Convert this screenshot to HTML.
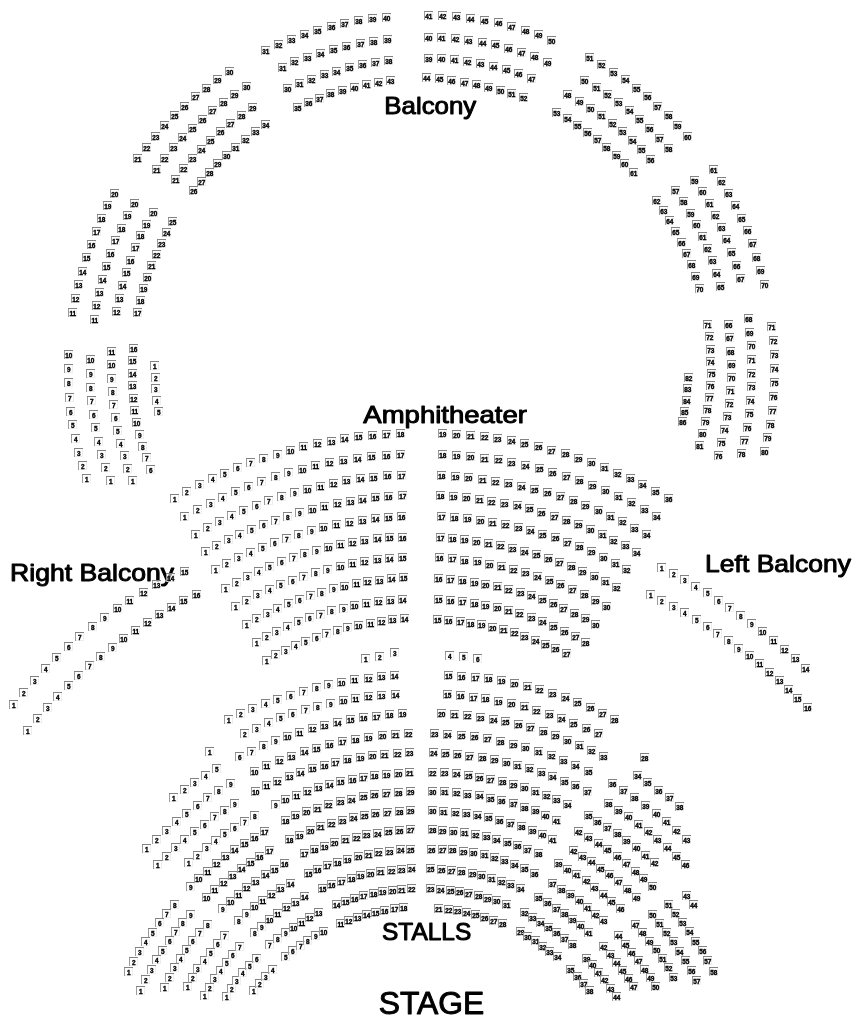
<!DOCTYPE html>
<html><head><meta charset="utf-8"><title>Seating chart</title>
<style>
html,body{margin:0;padding:0;background:#fff}
body{width:860px;height:1020px;position:relative;overflow:hidden;font-family:"Liberation Sans",sans-serif}
#m{position:absolute;left:0;top:0;width:860px;height:1020px;will-change:transform;z-index:1}
#m i{position:absolute;box-sizing:border-box;width:9px;height:9px;padding-left:0.5px;
 background:linear-gradient(#828282,#828282) 0 0/9px 1px no-repeat,linear-gradient(#9c9c9c,#9c9c9c) 0 0/1px 9px no-repeat,linear-gradient(#eee,#eee) 8px 0/1px 9px no-repeat,linear-gradient(#eee,#eee) 0 8px/9px 1px no-repeat,rgba(255,255,255,.55);
 font:bold 6.4px/11px "Liberation Sans",sans-serif;font-style:normal;color:#000;text-align:center;letter-spacing:-0.12px;white-space:nowrap;overflow:visible;
 -webkit-text-stroke:0.36px #000}
svg{position:absolute;left:0;top:0;z-index:0;will-change:transform}
svg text{font-family:"Liberation Sans",sans-serif;fill:#000;stroke:#000;stroke-width:0.95px;stroke-linejoin:round}
</style></head><body>
<div id="m">
<i style="left:261px;top:46px">31</i><i style="left:274px;top:40px">32</i><i style="left:287px;top:35px">33</i><i style="left:300px;top:30px">34</i><i style="left:313px;top:26px">35</i><i style="left:327px;top:22px">36</i><i style="left:340px;top:19px">37</i><i style="left:354px;top:16px">38</i>
<i style="left:368px;top:14px">39</i><i style="left:382px;top:13px">40</i><i style="left:278px;top:63px">31</i><i style="left:290px;top:57px">32</i><i style="left:303px;top:53px">33</i><i style="left:316px;top:49px">34</i><i style="left:329px;top:45px">35</i><i style="left:342px;top:42px">36</i>
<i style="left:356px;top:39px">37</i><i style="left:369px;top:37px">38</i><i style="left:383px;top:35px">39</i><i style="left:283px;top:84px">30</i><i style="left:295px;top:79px">31</i><i style="left:307px;top:75px">32</i><i style="left:320px;top:70px">33</i><i style="left:332px;top:67px">34</i>
<i style="left:345px;top:63px">35</i><i style="left:358px;top:60px">36</i><i style="left:371px;top:58px">37</i><i style="left:384px;top:56px">38</i><i style="left:293px;top:103px">35</i><i style="left:304px;top:98px">36</i><i style="left:315px;top:94px">37</i><i style="left:326px;top:89px">38</i>
<i style="left:338px;top:86px">39</i><i style="left:350px;top:83px">40</i><i style="left:362px;top:80px">41</i><i style="left:374px;top:78px">42</i><i style="left:386px;top:76px">43</i><i style="left:424px;top:11px">41</i><i style="left:438px;top:11px">42</i><i style="left:452px;top:12px">43</i>
<i style="left:466px;top:14px">44</i><i style="left:480px;top:16px">45</i><i style="left:494px;top:18px">46</i><i style="left:507px;top:22px">47</i><i style="left:521px;top:26px">48</i><i style="left:534px;top:30px">49</i><i style="left:547px;top:36px">50</i><i style="left:424px;top:33px">40</i>
<i style="left:437px;top:33px">41</i><i style="left:451px;top:34px">42</i><i style="left:464px;top:36px">43</i><i style="left:478px;top:38px">44</i><i style="left:491px;top:40px">45</i><i style="left:504px;top:44px">46</i><i style="left:517px;top:48px">47</i><i style="left:530px;top:52px">48</i>
<i style="left:543px;top:58px">49</i><i style="left:424px;top:54px">39</i><i style="left:437px;top:54px">40</i><i style="left:450px;top:55px">41</i><i style="left:463px;top:57px">42</i><i style="left:476px;top:59px">43</i><i style="left:489px;top:62px">44</i><i style="left:502px;top:65px">45</i>
<i style="left:514px;top:69px">46</i><i style="left:527px;top:74px">47</i><i style="left:422px;top:73px">44</i><i style="left:435px;top:74px">45</i><i style="left:447px;top:76px">46</i><i style="left:460px;top:78px">47</i><i style="left:472px;top:80px">48</i><i style="left:484px;top:83px">49</i>
<i style="left:496px;top:86px">50</i><i style="left:507px;top:89px">51</i><i style="left:519px;top:93px">52</i><i style="left:133px;top:154px">21</i><i style="left:142px;top:143px">22</i><i style="left:151px;top:132px">23</i><i style="left:160px;top:121px">24</i><i style="left:170px;top:111px">25</i>
<i style="left:180px;top:102px">26</i><i style="left:191px;top:92px">27</i><i style="left:202px;top:84px">28</i><i style="left:213px;top:75px">29</i><i style="left:225px;top:67px">30</i><i style="left:152px;top:165px">21</i><i style="left:160px;top:154px">22</i><i style="left:169px;top:143px">23</i>
<i style="left:178px;top:133px">24</i><i style="left:188px;top:124px">25</i><i style="left:198px;top:115px">26</i><i style="left:208px;top:106px">27</i><i style="left:219px;top:98px">28</i><i style="left:230px;top:90px">29</i><i style="left:242px;top:82px">30</i><i style="left:171px;top:175px">21</i>
<i style="left:179px;top:164px">22</i><i style="left:188px;top:154px">23</i><i style="left:197px;top:145px">24</i><i style="left:206px;top:136px">25</i><i style="left:216px;top:127px">26</i><i style="left:226px;top:119px">27</i><i style="left:237px;top:111px">28</i><i style="left:248px;top:103px">29</i>
<i style="left:189px;top:186px">26</i><i style="left:197px;top:177px">27</i><i style="left:205px;top:168px">28</i><i style="left:213px;top:159px">29</i><i style="left:222px;top:151px">30</i><i style="left:231px;top:143px">31</i><i style="left:241px;top:135px">32</i><i style="left:251px;top:127px">33</i>
<i style="left:261px;top:120px">34</i><i style="left:585px;top:53px">51</i><i style="left:597px;top:60px">52</i><i style="left:609px;top:68px">53</i><i style="left:621px;top:75px">54</i><i style="left:632px;top:84px">55</i><i style="left:643px;top:92px">56</i><i style="left:653px;top:102px">57</i>
<i style="left:664px;top:111px">58</i><i style="left:673px;top:121px">59</i><i style="left:683px;top:132px">60</i><i style="left:580px;top:76px">50</i><i style="left:592px;top:83px">51</i><i style="left:603px;top:90px">52</i><i style="left:614px;top:98px">53</i><i style="left:625px;top:106px">54</i>
<i style="left:635px;top:115px">55</i><i style="left:645px;top:124px">56</i><i style="left:655px;top:134px">57</i><i style="left:664px;top:144px">58</i><i style="left:563px;top:90px">48</i><i style="left:575px;top:97px">49</i><i style="left:586px;top:104px">50</i><i style="left:597px;top:111px">51</i>
<i style="left:608px;top:119px">52</i><i style="left:618px;top:127px">53</i><i style="left:628px;top:136px">54</i><i style="left:637px;top:145px">55</i><i style="left:646px;top:155px">56</i><i style="left:552px;top:108px">53</i><i style="left:563px;top:114px">54</i><i style="left:573px;top:121px">55</i>
<i style="left:583px;top:128px">56</i><i style="left:593px;top:135px">57</i><i style="left:602px;top:143px">58</i><i style="left:612px;top:151px">59</i><i style="left:620px;top:159px">60</i><i style="left:629px;top:168px">61</i><i style="left:68px;top:308px">11</i><i style="left:71px;top:294px">12</i>
<i style="left:74px;top:280px">13</i><i style="left:78px;top:267px">14</i><i style="left:82px;top:253px">15</i><i style="left:87px;top:240px">16</i><i style="left:92px;top:227px">17</i><i style="left:97px;top:214px">18</i><i style="left:103px;top:201px">19</i><i style="left:110px;top:189px">20</i>
<i style="left:90px;top:315px">11</i><i style="left:92px;top:301px">12</i><i style="left:95px;top:288px">13</i><i style="left:98px;top:275px">14</i><i style="left:102px;top:262px">15</i><i style="left:106px;top:249px">16</i><i style="left:111px;top:236px">17</i><i style="left:117px;top:224px">18</i>
<i style="left:123px;top:211px">19</i><i style="left:130px;top:199px">20</i><i style="left:112px;top:307px">12</i><i style="left:115px;top:294px">13</i><i style="left:118px;top:281px">14</i><i style="left:122px;top:268px">15</i><i style="left:126px;top:256px">16</i><i style="left:131px;top:243px">17</i>
<i style="left:136px;top:231px">18</i><i style="left:142px;top:220px">19</i><i style="left:149px;top:208px">20</i><i style="left:133px;top:308px">17</i><i style="left:136px;top:296px">18</i><i style="left:139px;top:284px">19</i><i style="left:143px;top:273px">20</i><i style="left:147px;top:261px">21</i>
<i style="left:152px;top:250px">22</i><i style="left:157px;top:239px">23</i><i style="left:162px;top:228px">24</i><i style="left:168px;top:217px">25</i><i style="left:709px;top:165px">61</i><i style="left:717px;top:177px">62</i><i style="left:724px;top:189px">63</i><i style="left:731px;top:201px">64</i>
<i style="left:737px;top:214px">65</i><i style="left:743px;top:226px">66</i><i style="left:748px;top:239px">67</i><i style="left:752px;top:253px">68</i><i style="left:756px;top:266px">69</i><i style="left:760px;top:280px">70</i><i style="left:690px;top:176px">59</i><i style="left:698px;top:187px">60</i>
<i style="left:705px;top:199px">61</i><i style="left:711px;top:211px">62</i><i style="left:717px;top:223px">63</i><i style="left:722px;top:235px">64</i><i style="left:727px;top:248px">65</i><i style="left:732px;top:261px">66</i><i style="left:736px;top:274px">67</i><i style="left:671px;top:186px">57</i>
<i style="left:679px;top:197px">58</i><i style="left:686px;top:209px">59</i><i style="left:692px;top:220px">60</i><i style="left:698px;top:232px">61</i><i style="left:703px;top:244px">62</i><i style="left:708px;top:256px">63</i><i style="left:712px;top:269px">64</i><i style="left:716px;top:282px">65</i>
<i style="left:652px;top:196px">62</i><i style="left:659px;top:206px">63</i><i style="left:665px;top:216px">64</i><i style="left:671px;top:227px">65</i><i style="left:677px;top:238px">66</i><i style="left:682px;top:249px">67</i><i style="left:687px;top:260px">68</i><i style="left:691px;top:272px">69</i>
<i style="left:695px;top:284px">70</i><i style="left:82px;top:474px">1</i><i style="left:78px;top:461px">2</i><i style="left:74px;top:448px">3</i><i style="left:71px;top:434px">4</i><i style="left:68px;top:420px">5</i><i style="left:66px;top:407px">6</i><i style="left:65px;top:393px">7</i>
<i style="left:64px;top:378px">8</i><i style="left:64px;top:364px">9</i><i style="left:64px;top:350px">10</i><i style="left:106px;top:476px">1</i><i style="left:101px;top:463px">2</i><i style="left:97px;top:450px">3</i><i style="left:94px;top:437px">4</i><i style="left:91px;top:423px">5</i>
<i style="left:89px;top:410px">6</i><i style="left:87px;top:396px">7</i><i style="left:86px;top:383px">8</i><i style="left:86px;top:369px">9</i><i style="left:86px;top:355px">10</i><i style="left:128px;top:476px">1</i><i style="left:123px;top:464px">2</i><i style="left:120px;top:451px">3</i>
<i style="left:116px;top:439px">4</i><i style="left:113px;top:426px">5</i><i style="left:111px;top:413px">6</i><i style="left:109px;top:400px">7</i><i style="left:108px;top:387px">8</i><i style="left:107px;top:374px">9</i><i style="left:107px;top:360px">10</i><i style="left:107px;top:347px">11</i>
<i style="left:146px;top:465px">6</i><i style="left:142px;top:453px">7</i><i style="left:138px;top:442px">8</i><i style="left:135px;top:430px">9</i><i style="left:132px;top:418px">10</i><i style="left:130px;top:406px">11</i><i style="left:129px;top:394px">12</i><i style="left:128px;top:381px">13</i>
<i style="left:128px;top:369px">14</i><i style="left:128px;top:356px">15</i><i style="left:129px;top:344px">16</i><i style="left:150px;top:361px">1</i><i style="left:151px;top:373px">2</i><i style="left:151px;top:384px">3</i><i style="left:152px;top:396px">4</i><i style="left:154px;top:407px">5</i>
<i style="left:767px;top:322px">71</i><i style="left:769px;top:336px">72</i><i style="left:770px;top:350px">73</i><i style="left:770px;top:364px">74</i><i style="left:770px;top:378px">75</i><i style="left:769px;top:392px">76</i><i style="left:768px;top:406px">77</i><i style="left:766px;top:420px">78</i>
<i style="left:763px;top:433px">79</i><i style="left:760px;top:447px">80</i><i style="left:744px;top:314px">68</i><i style="left:745px;top:328px">69</i><i style="left:747px;top:341px">70</i><i style="left:747px;top:355px">71</i><i style="left:747px;top:369px">72</i><i style="left:747px;top:382px">73</i>
<i style="left:746px;top:396px">74</i><i style="left:745px;top:409px">75</i><i style="left:743px;top:423px">76</i><i style="left:740px;top:436px">77</i><i style="left:737px;top:449px">78</i><i style="left:724px;top:320px">66</i><i style="left:725px;top:333px">67</i><i style="left:726px;top:347px">68</i>
<i style="left:727px;top:360px">69</i><i style="left:727px;top:373px">70</i><i style="left:726px;top:386px">71</i><i style="left:725px;top:399px">72</i><i style="left:723px;top:412px">73</i><i style="left:720px;top:425px">74</i><i style="left:717px;top:438px">75</i><i style="left:714px;top:451px">76</i>
<i style="left:703px;top:320px">71</i><i style="left:705px;top:332px">72</i><i style="left:706px;top:345px">73</i><i style="left:706px;top:357px">74</i><i style="left:707px;top:369px">75</i><i style="left:706px;top:381px">76</i><i style="left:705px;top:393px">77</i><i style="left:703px;top:405px">78</i>
<i style="left:701px;top:417px">79</i><i style="left:698px;top:429px">80</i><i style="left:695px;top:441px">81</i><i style="left:684px;top:373px">82</i><i style="left:683px;top:384px">83</i><i style="left:682px;top:396px">84</i><i style="left:680px;top:407px">85</i><i style="left:678px;top:417px">86</i>
<i style="left:170px;top:494px">1</i><i style="left:182px;top:487px">2</i><i style="left:195px;top:480px">3</i><i style="left:208px;top:474px">4</i><i style="left:220px;top:469px">5</i><i style="left:233px;top:463px">6</i><i style="left:246px;top:458px">7</i><i style="left:259px;top:454px">8</i>
<i style="left:273px;top:450px">9</i><i style="left:286px;top:446px">10</i><i style="left:299px;top:442px">11</i><i style="left:313px;top:439px">12</i><i style="left:327px;top:437px">13</i><i style="left:340px;top:434px">14</i><i style="left:354px;top:432px">15</i><i style="left:368px;top:431px">16</i>
<i style="left:382px;top:430px">17</i><i style="left:396px;top:429px">18</i><i style="left:180px;top:512px">1</i><i style="left:193px;top:505px">2</i><i style="left:206px;top:499px">3</i><i style="left:218px;top:493px">4</i><i style="left:231px;top:487px">5</i><i style="left:244px;top:482px">6</i>
<i style="left:257px;top:477px">7</i><i style="left:271px;top:472px">8</i><i style="left:284px;top:468px">9</i><i style="left:298px;top:465px">10</i><i style="left:311px;top:461px">11</i><i style="left:325px;top:458px">12</i><i style="left:339px;top:456px">13</i><i style="left:353px;top:454px">14</i>
<i style="left:367px;top:452px">15</i><i style="left:382px;top:451px">16</i><i style="left:396px;top:450px">17</i><i style="left:191px;top:530px">1</i><i style="left:203px;top:523px">2</i><i style="left:215px;top:517px">3</i><i style="left:227px;top:511px">4</i><i style="left:239px;top:506px">5</i>
<i style="left:252px;top:501px">6</i><i style="left:264px;top:496px">7</i><i style="left:277px;top:492px">8</i><i style="left:290px;top:488px">9</i><i style="left:303px;top:485px">10</i><i style="left:316px;top:482px">11</i><i style="left:329px;top:479px">12</i><i style="left:342px;top:476px">13</i>
<i style="left:356px;top:474px">14</i><i style="left:369px;top:473px">15</i><i style="left:383px;top:471px">16</i><i style="left:397px;top:471px">17</i><i style="left:201px;top:547px">1</i><i style="left:212px;top:541px">2</i><i style="left:224px;top:535px">3</i><i style="left:235px;top:530px">4</i>
<i style="left:247px;top:525px">5</i><i style="left:259px;top:520px">6</i><i style="left:271px;top:516px">7</i><i style="left:283px;top:512px">8</i><i style="left:295px;top:508px">9</i><i style="left:308px;top:505px">10</i><i style="left:320px;top:502px">11</i><i style="left:333px;top:499px">12</i>
<i style="left:346px;top:497px">13</i><i style="left:358px;top:495px">14</i><i style="left:371px;top:493px">15</i><i style="left:384px;top:492px">16</i><i style="left:398px;top:491px">17</i><i style="left:211px;top:565px">1</i><i style="left:222px;top:559px">2</i><i style="left:234px;top:553px">3</i>
<i style="left:246px;top:548px">4</i><i style="left:258px;top:543px">5</i><i style="left:270px;top:538px">6</i><i style="left:282px;top:534px">7</i><i style="left:294px;top:530px">8</i><i style="left:307px;top:526px">9</i><i style="left:319px;top:523px">10</i><i style="left:332px;top:520px">11</i>
<i style="left:345px;top:518px">12</i><i style="left:358px;top:516px">13</i><i style="left:371px;top:514px">14</i><i style="left:384px;top:513px">15</i><i style="left:397px;top:512px">16</i><i style="left:221px;top:584px">1</i><i style="left:232px;top:578px">2</i><i style="left:243px;top:572px">3</i>
<i style="left:254px;top:567px">4</i><i style="left:265px;top:562px">5</i><i style="left:277px;top:557px">6</i><i style="left:289px;top:553px">7</i><i style="left:300px;top:549px">8</i><i style="left:312px;top:546px">9</i><i style="left:324px;top:543px">10</i><i style="left:336px;top:540px">11</i>
<i style="left:348px;top:538px">12</i><i style="left:360px;top:536px">13</i><i style="left:373px;top:534px">14</i><i style="left:385px;top:533px">15</i><i style="left:398px;top:533px">16</i><i style="left:231px;top:602px">1</i><i style="left:242px;top:596px">2</i><i style="left:253px;top:590px">3</i>
<i style="left:265px;top:585px">4</i><i style="left:276px;top:580px">5</i><i style="left:288px;top:576px">6</i><i style="left:299px;top:572px">7</i><i style="left:311px;top:568px">8</i><i style="left:323px;top:565px">9</i><i style="left:336px;top:562px">10</i><i style="left:348px;top:559px">11</i>
<i style="left:360px;top:557px">12</i><i style="left:373px;top:555px">13</i><i style="left:385px;top:554px">14</i><i style="left:398px;top:553px">15</i><i style="left:242px;top:620px">1</i><i style="left:252px;top:614px">2</i><i style="left:263px;top:609px">3</i><i style="left:273px;top:604px">4</i>
<i style="left:284px;top:599px">5</i><i style="left:295px;top:595px">6</i><i style="left:306px;top:591px">7</i><i style="left:317px;top:588px">8</i><i style="left:329px;top:584px">9</i><i style="left:340px;top:582px">10</i><i style="left:352px;top:579px">11</i><i style="left:363px;top:577px">12</i>
<i style="left:375px;top:576px">13</i><i style="left:387px;top:574px">14</i><i style="left:399px;top:573px">15</i><i style="left:252px;top:638px">1</i><i style="left:262px;top:632px">2</i><i style="left:272px;top:627px">3</i><i style="left:283px;top:622px">4</i><i style="left:294px;top:617px">5</i>
<i style="left:305px;top:613px">6</i><i style="left:316px;top:610px">7</i><i style="left:327px;top:606px">8</i><i style="left:339px;top:604px">9</i><i style="left:350px;top:601px">10</i><i style="left:362px;top:599px">11</i><i style="left:374px;top:597px">12</i><i style="left:386px;top:596px">13</i>
<i style="left:398px;top:595px">14</i><i style="left:262px;top:656px">1</i><i style="left:271px;top:650px">2</i><i style="left:281px;top:646px">3</i><i style="left:291px;top:641px">4</i><i style="left:301px;top:637px">5</i><i style="left:312px;top:633px">6</i><i style="left:322px;top:629px">7</i>
<i style="left:333px;top:626px">8</i><i style="left:343px;top:623px">9</i><i style="left:354px;top:621px">10</i><i style="left:366px;top:619px">11</i><i style="left:377px;top:617px">12</i><i style="left:388px;top:615px">13</i><i style="left:400px;top:614px">14</i><i style="left:361px;top:654px">1</i>
<i style="left:375px;top:652px">2</i><i style="left:390px;top:648px">3</i><i style="left:438px;top:429px">19</i><i style="left:452px;top:430px">20</i><i style="left:466px;top:431px">21</i><i style="left:480px;top:432px">22</i><i style="left:493px;top:434px">23</i><i style="left:507px;top:436px">24</i>
<i style="left:520px;top:439px">25</i><i style="left:534px;top:442px">26</i><i style="left:547px;top:446px">27</i><i style="left:561px;top:449px">28</i><i style="left:574px;top:454px">29</i><i style="left:587px;top:458px">30</i><i style="left:600px;top:463px">31</i><i style="left:613px;top:469px">32</i>
<i style="left:626px;top:474px">33</i><i style="left:638px;top:480px">34</i><i style="left:651px;top:487px">35</i><i style="left:664px;top:494px">36</i><i style="left:438px;top:450px">18</i><i style="left:452px;top:451px">19</i><i style="left:466px;top:452px">20</i><i style="left:480px;top:454px">21</i>
<i style="left:494px;top:455px">22</i><i style="left:507px;top:458px">23</i><i style="left:521px;top:461px">24</i><i style="left:535px;top:464px">25</i><i style="left:548px;top:468px">26</i><i style="left:562px;top:472px">27</i><i style="left:575px;top:476px">28</i><i style="left:588px;top:481px">29</i>
<i style="left:601px;top:486px">30</i><i style="left:614px;top:492px">31</i><i style="left:627px;top:498px">32</i><i style="left:640px;top:505px">33</i><i style="left:652px;top:512px">34</i><i style="left:437px;top:471px">18</i><i style="left:451px;top:472px">19</i><i style="left:464px;top:473px">20</i>
<i style="left:478px;top:475px">21</i><i style="left:491px;top:477px">22</i><i style="left:504px;top:479px">23</i><i style="left:517px;top:482px">24</i><i style="left:530px;top:485px">25</i><i style="left:543px;top:488px">26</i><i style="left:556px;top:492px">27</i><i style="left:569px;top:496px">28</i>
<i style="left:581px;top:501px">29</i><i style="left:594px;top:506px">30</i><i style="left:606px;top:512px">31</i><i style="left:618px;top:517px">32</i><i style="left:630px;top:524px">33</i><i style="left:642px;top:530px">34</i><i style="left:436px;top:491px">18</i><i style="left:449px;top:492px">19</i>
<i style="left:462px;top:493px">20</i><i style="left:475px;top:495px">21</i><i style="left:487px;top:497px">22</i><i style="left:500px;top:499px">23</i><i style="left:513px;top:501px">24</i><i style="left:525px;top:504px">25</i><i style="left:537px;top:508px">26</i><i style="left:550px;top:512px">27</i>
<i style="left:562px;top:516px">28</i><i style="left:574px;top:520px">29</i><i style="left:586px;top:525px">30</i><i style="left:598px;top:530px">31</i><i style="left:609px;top:536px">32</i><i style="left:621px;top:541px">33</i><i style="left:632px;top:548px">34</i><i style="left:437px;top:512px">17</i>
<i style="left:450px;top:513px">18</i><i style="left:463px;top:514px">19</i><i style="left:476px;top:516px">20</i><i style="left:488px;top:518px">21</i><i style="left:501px;top:520px">22</i><i style="left:514px;top:523px">23</i><i style="left:526px;top:526px">24</i><i style="left:538px;top:530px">25</i>
<i style="left:551px;top:533px">26</i><i style="left:563px;top:538px">27</i><i style="left:575px;top:542px">28</i><i style="left:587px;top:547px">29</i><i style="left:599px;top:553px">30</i><i style="left:611px;top:559px">31</i><i style="left:622px;top:565px">32</i><i style="left:436px;top:533px">17</i>
<i style="left:448px;top:534px">18</i><i style="left:460px;top:535px">19</i><i style="left:472px;top:537px">20</i><i style="left:484px;top:539px">21</i><i style="left:496px;top:541px">22</i><i style="left:508px;top:544px">23</i><i style="left:520px;top:547px">24</i><i style="left:532px;top:550px">25</i>
<i style="left:544px;top:554px">26</i><i style="left:555px;top:558px">27</i><i style="left:567px;top:562px">28</i><i style="left:578px;top:567px">29</i><i style="left:590px;top:572px">30</i><i style="left:601px;top:577px">31</i><i style="left:612px;top:583px">32</i><i style="left:435px;top:553px">16</i>
<i style="left:448px;top:554px">17</i><i style="left:460px;top:556px">18</i><i style="left:473px;top:557px">19</i><i style="left:485px;top:560px">20</i><i style="left:497px;top:562px">21</i><i style="left:509px;top:565px">22</i><i style="left:521px;top:568px">23</i><i style="left:533px;top:572px">24</i>
<i style="left:545px;top:576px">25</i><i style="left:556px;top:580px">26</i><i style="left:568px;top:585px">27</i><i style="left:580px;top:590px">28</i><i style="left:591px;top:596px">29</i><i style="left:602px;top:602px">30</i><i style="left:434px;top:574px">16</i><i style="left:446px;top:575px">17</i>
<i style="left:458px;top:576px">18</i><i style="left:470px;top:578px">19</i><i style="left:481px;top:580px">20</i><i style="left:493px;top:582px">21</i><i style="left:504px;top:585px">22</i><i style="left:516px;top:588px">23</i><i style="left:527px;top:591px">24</i><i style="left:538px;top:595px">25</i>
<i style="left:549px;top:599px">26</i><i style="left:559px;top:604px">27</i><i style="left:570px;top:609px">28</i><i style="left:581px;top:614px">29</i><i style="left:591px;top:620px">30</i><i style="left:434px;top:595px">15</i><i style="left:446px;top:596px">16</i><i style="left:458px;top:597px">17</i>
<i style="left:470px;top:599px">18</i><i style="left:481px;top:601px">19</i><i style="left:493px;top:603px">20</i><i style="left:504px;top:606px">21</i><i style="left:515px;top:609px">22</i><i style="left:527px;top:613px">23</i><i style="left:538px;top:617px">24</i><i style="left:549px;top:622px">25</i>
<i style="left:560px;top:627px">26</i><i style="left:571px;top:632px">27</i><i style="left:581px;top:638px">28</i><i style="left:433px;top:615px">15</i><i style="left:444px;top:616px">16</i><i style="left:456px;top:617px">17</i><i style="left:466px;top:619px">18</i><i style="left:477px;top:620px">19</i>
<i style="left:488px;top:623px">20</i><i style="left:499px;top:625px">21</i><i style="left:510px;top:628px">22</i><i style="left:520px;top:632px">23</i><i style="left:531px;top:636px">24</i><i style="left:541px;top:640px">25</i><i style="left:551px;top:644px">26</i><i style="left:562px;top:649px">27</i>
<i style="left:445px;top:651px">4</i><i style="left:459px;top:652px">5</i><i style="left:473px;top:654px">6</i><i style="left:9px;top:700px">1</i><i style="left:19px;top:688px">2</i><i style="left:30px;top:676px">3</i><i style="left:41px;top:664px">4</i><i style="left:52px;top:653px">5</i>
<i style="left:64px;top:642px">6</i><i style="left:75px;top:632px">7</i><i style="left:88px;top:622px">8</i><i style="left:100px;top:613px">9</i><i style="left:113px;top:604px">10</i><i style="left:125px;top:596px">11</i><i style="left:139px;top:588px">12</i><i style="left:152px;top:580px">13</i>
<i style="left:166px;top:573px">14</i><i style="left:180px;top:567px">15</i><i style="left:23px;top:726px">1</i><i style="left:33px;top:714px">2</i><i style="left:43px;top:703px">3</i><i style="left:53px;top:692px">4</i><i style="left:64px;top:681px">5</i><i style="left:74px;top:671px">6</i>
<i style="left:85px;top:661px">7</i><i style="left:96px;top:652px">8</i><i style="left:108px;top:643px">9</i><i style="left:119px;top:634px">10</i><i style="left:131px;top:626px">11</i><i style="left:143px;top:618px">12</i><i style="left:155px;top:610px">13</i><i style="left:167px;top:603px">14</i>
<i style="left:179px;top:596px">15</i><i style="left:192px;top:590px">16</i><i style="left:657px;top:563px">1</i><i style="left:669px;top:569px">2</i><i style="left:680px;top:575px">3</i><i style="left:691px;top:582px">4</i><i style="left:703px;top:588px">5</i><i style="left:714px;top:596px">6</i>
<i style="left:725px;top:603px">7</i><i style="left:736px;top:611px">8</i><i style="left:747px;top:619px">9</i><i style="left:758px;top:627px">10</i><i style="left:769px;top:636px">11</i><i style="left:780px;top:645px">12</i><i style="left:791px;top:654px">13</i><i style="left:801px;top:664px">14</i>
<i style="left:646px;top:590px">1</i><i style="left:657px;top:596px">2</i><i style="left:669px;top:602px">3</i><i style="left:680px;top:608px">4</i><i style="left:692px;top:615px">5</i><i style="left:703px;top:622px">6</i><i style="left:713px;top:629px">7</i><i style="left:724px;top:636px">8</i>
<i style="left:734px;top:644px">9</i><i style="left:745px;top:651px">10</i><i style="left:755px;top:659px">11</i><i style="left:765px;top:668px">12</i><i style="left:775px;top:676px">13</i><i style="left:784px;top:685px">14</i><i style="left:793px;top:694px">15</i><i style="left:803px;top:703px">16</i>
<i style="left:224px;top:715px">1</i><i style="left:236px;top:709px">2</i><i style="left:248px;top:704px">3</i><i style="left:261px;top:699px">4</i><i style="left:273px;top:695px">5</i><i style="left:286px;top:691px">6</i><i style="left:299px;top:687px">7</i><i style="left:312px;top:683px">8</i>
<i style="left:324px;top:680px">9</i><i style="left:337px;top:678px">10</i><i style="left:350px;top:675px">11</i><i style="left:364px;top:674px">12</i><i style="left:377px;top:672px">13</i><i style="left:390px;top:671px">14</i><i style="left:240px;top:729px">2</i><i style="left:252px;top:724px">3</i>
<i style="left:264px;top:718px">4</i><i style="left:276px;top:713px">5</i><i style="left:288px;top:709px">6</i><i style="left:301px;top:705px">7</i><i style="left:313px;top:702px">8</i><i style="left:326px;top:699px">9</i><i style="left:339px;top:696px">10</i><i style="left:351px;top:694px">11</i>
<i style="left:364px;top:692px">12</i><i style="left:377px;top:691px">13</i><i style="left:391px;top:690px">14</i><i style="left:235px;top:752px">6</i><i style="left:247px;top:747px">7</i><i style="left:259px;top:741px">8</i><i style="left:271px;top:736px">9</i><i style="left:283px;top:732px">10</i>
<i style="left:295px;top:728px">11</i><i style="left:308px;top:724px">12</i><i style="left:320px;top:721px">13</i><i style="left:333px;top:718px">14</i><i style="left:346px;top:715px">15</i><i style="left:359px;top:713px">16</i><i style="left:372px;top:712px">17</i><i style="left:385px;top:710px">18</i>
<i style="left:398px;top:709px">19</i><i style="left:250px;top:767px">10</i><i style="left:262px;top:761px">11</i><i style="left:275px;top:756px">12</i><i style="left:287px;top:752px">13</i><i style="left:300px;top:747px">14</i><i style="left:312px;top:744px">15</i><i style="left:325px;top:740px">16</i>
<i style="left:338px;top:737px">17</i><i style="left:351px;top:735px">18</i><i style="left:364px;top:733px">19</i><i style="left:378px;top:731px">20</i><i style="left:391px;top:730px">21</i><i style="left:404px;top:729px">22</i><i style="left:251px;top:787px">10</i><i style="left:262px;top:781px">11</i>
<i style="left:273px;top:777px">12</i><i style="left:285px;top:772px">13</i><i style="left:296px;top:768px">14</i><i style="left:308px;top:764px">15</i><i style="left:320px;top:761px">16</i><i style="left:331px;top:758px">17</i><i style="left:343px;top:755px">18</i><i style="left:356px;top:753px">19</i>
<i style="left:368px;top:751px">20</i><i style="left:380px;top:750px">21</i><i style="left:393px;top:749px">22</i><i style="left:405px;top:748px">23</i><i style="left:271px;top:800px">9</i><i style="left:281px;top:795px">10</i><i style="left:292px;top:791px">11</i><i style="left:303px;top:787px">12</i>
<i style="left:314px;top:783px">13</i><i style="left:325px;top:780px">14</i><i style="left:336px;top:777px">15</i><i style="left:348px;top:775px">16</i><i style="left:359px;top:773px">17</i><i style="left:370px;top:771px">18</i><i style="left:382px;top:770px">19</i><i style="left:394px;top:769px">20</i>
<i style="left:405px;top:768px">21</i><i style="left:281px;top:816px">18</i><i style="left:291px;top:811px">19</i><i style="left:302px;top:807px">20</i><i style="left:313px;top:804px">21</i><i style="left:324px;top:800px">22</i><i style="left:336px;top:797px">23</i><i style="left:347px;top:795px">24</i>
<i style="left:359px;top:792px">25</i><i style="left:370px;top:790px">26</i><i style="left:382px;top:789px">27</i><i style="left:394px;top:788px">28</i><i style="left:406px;top:787px">29</i><i style="left:285px;top:835px">18</i><i style="left:295px;top:831px">19</i><i style="left:306px;top:826px">20</i>
<i style="left:316px;top:822px">21</i><i style="left:327px;top:819px">22</i><i style="left:338px;top:816px">23</i><i style="left:349px;top:813px">24</i><i style="left:360px;top:811px">25</i><i style="left:371px;top:809px">26</i><i style="left:383px;top:808px">27</i><i style="left:395px;top:807px">28</i>
<i style="left:406px;top:806px">29</i><i style="left:300px;top:849px">17</i><i style="left:310px;top:845px">18</i><i style="left:320px;top:842px">19</i><i style="left:330px;top:838px">20</i><i style="left:341px;top:835px">21</i><i style="left:352px;top:833px">22</i><i style="left:362px;top:830px">23</i>
<i style="left:373px;top:829px">24</i><i style="left:384px;top:827px">25</i><i style="left:395px;top:826px">26</i><i style="left:406px;top:825px">27</i><i style="left:304px;top:869px">15</i><i style="left:313px;top:865px">16</i><i style="left:323px;top:861px">17</i><i style="left:333px;top:858px">18</i>
<i style="left:343px;top:855px">19</i><i style="left:354px;top:852px">20</i><i style="left:364px;top:850px">21</i><i style="left:374px;top:848px">22</i><i style="left:385px;top:847px">23</i><i style="left:396px;top:845px">24</i><i style="left:406px;top:845px">25</i><i style="left:318px;top:884px">15</i>
<i style="left:327px;top:880px">16</i><i style="left:337px;top:877px">17</i><i style="left:347px;top:874px">18</i><i style="left:356px;top:871px">19</i><i style="left:366px;top:869px">20</i><i style="left:376px;top:867px">21</i><i style="left:387px;top:866px">22</i><i style="left:397px;top:865px">23</i>
<i style="left:407px;top:864px">24</i><i style="left:332px;top:900px">14</i><i style="left:341px;top:897px">15</i><i style="left:350px;top:894px">16</i><i style="left:359px;top:891px">17</i><i style="left:369px;top:889px">18</i><i style="left:378px;top:887px">19</i><i style="left:388px;top:886px">20</i>
<i style="left:397px;top:885px">21</i><i style="left:407px;top:884px">22</i><i style="left:336px;top:919px">11</i><i style="left:344px;top:916px">12</i><i style="left:353px;top:913px">13</i><i style="left:362px;top:910px">14</i><i style="left:371px;top:908px">15</i><i style="left:380px;top:906px">16</i>
<i style="left:390px;top:904px">17</i><i style="left:399px;top:903px">18</i><i style="left:444px;top:671px">15</i><i style="left:457px;top:672px">16</i><i style="left:471px;top:673px">17</i><i style="left:484px;top:674px">18</i><i style="left:497px;top:676px">19</i><i style="left:510px;top:679px">20</i>
<i style="left:523px;top:682px">21</i><i style="left:535px;top:685px">22</i><i style="left:548px;top:689px">23</i><i style="left:561px;top:693px">24</i><i style="left:573px;top:698px">25</i><i style="left:586px;top:703px">26</i><i style="left:598px;top:709px">27</i><i style="left:610px;top:715px">28</i>
<i style="left:443px;top:690px">15</i><i style="left:456px;top:691px">16</i><i style="left:469px;top:693px">17</i><i style="left:481px;top:694px">18</i><i style="left:494px;top:697px">19</i><i style="left:507px;top:699px">20</i><i style="left:520px;top:702px">21</i><i style="left:532px;top:706px">22</i>
<i style="left:545px;top:710px">23</i><i style="left:557px;top:714px">24</i><i style="left:569px;top:719px">25</i><i style="left:582px;top:724px">26</i><i style="left:594px;top:729px">27</i><i style="left:437px;top:709px">20</i><i style="left:450px;top:710px">21</i><i style="left:463px;top:711px">22</i>
<i style="left:476px;top:713px">23</i><i style="left:489px;top:715px">24</i><i style="left:501px;top:717px">25</i><i style="left:514px;top:720px">26</i><i style="left:526px;top:723px">27</i><i style="left:539px;top:727px">28</i><i style="left:551px;top:731px">29</i><i style="left:563px;top:736px">30</i>
<i style="left:575px;top:741px">31</i><i style="left:587px;top:746px">32</i><i style="left:599px;top:752px">33</i><i style="left:430px;top:729px">23</i><i style="left:443px;top:730px">24</i><i style="left:457px;top:731px">25</i><i style="left:470px;top:732px">26</i><i style="left:483px;top:734px">27</i>
<i style="left:496px;top:737px">28</i><i style="left:509px;top:740px">29</i><i style="left:521px;top:743px">30</i><i style="left:534px;top:747px">31</i><i style="left:547px;top:751px">32</i><i style="left:559px;top:756px">33</i><i style="left:571px;top:761px">34</i><i style="left:584px;top:767px">35</i>
<i style="left:429px;top:748px">24</i><i style="left:441px;top:749px">25</i><i style="left:453px;top:750px">26</i><i style="left:465px;top:752px">27</i><i style="left:478px;top:753px">28</i><i style="left:490px;top:755px">29</i><i style="left:502px;top:758px">30</i><i style="left:513px;top:761px">31</i>
<i style="left:525px;top:764px">32</i><i style="left:537px;top:768px">33</i><i style="left:548px;top:772px">34</i><i style="left:560px;top:777px">35</i><i style="left:571px;top:781px">36</i><i style="left:583px;top:787px">37</i><i style="left:428px;top:768px">22</i><i style="left:440px;top:768px">23</i>
<i style="left:452px;top:769px">24</i><i style="left:464px;top:771px">25</i><i style="left:475px;top:773px">26</i><i style="left:486px;top:775px">27</i><i style="left:498px;top:777px">28</i><i style="left:509px;top:780px">29</i><i style="left:520px;top:783px">30</i><i style="left:531px;top:787px">31</i>
<i style="left:542px;top:791px">32</i><i style="left:552px;top:795px">33</i><i style="left:563px;top:800px">34</i><i style="left:428px;top:787px">30</i><i style="left:440px;top:787px">31</i><i style="left:452px;top:788px">32</i><i style="left:463px;top:790px">33</i><i style="left:475px;top:791px">34</i>
<i style="left:486px;top:794px">35</i><i style="left:497px;top:796px">36</i><i style="left:509px;top:799px">37</i><i style="left:520px;top:803px">38</i><i style="left:531px;top:806px">39</i><i style="left:541px;top:811px">40</i><i style="left:552px;top:816px">41</i><i style="left:428px;top:806px">30</i>
<i style="left:439px;top:807px">31</i><i style="left:451px;top:808px">32</i><i style="left:462px;top:809px">33</i><i style="left:473px;top:811px">34</i><i style="left:484px;top:813px">35</i><i style="left:495px;top:816px">36</i><i style="left:506px;top:819px">37</i><i style="left:517px;top:822px">38</i>
<i style="left:528px;top:826px">39</i><i style="left:538px;top:830px">40</i><i style="left:548px;top:835px">41</i><i style="left:428px;top:825px">28</i><i style="left:438px;top:826px">29</i><i style="left:449px;top:827px">30</i><i style="left:460px;top:828px">31</i><i style="left:471px;top:830px">32</i>
<i style="left:482px;top:832px">33</i><i style="left:492px;top:835px">34</i><i style="left:503px;top:838px">35</i><i style="left:513px;top:841px">36</i><i style="left:523px;top:845px">37</i><i style="left:534px;top:849px">38</i><i style="left:427px;top:845px">26</i><i style="left:438px;top:845px">27</i>
<i style="left:448px;top:845px">28</i><i style="left:459px;top:847px">29</i><i style="left:469px;top:848px">30</i><i style="left:480px;top:850px">31</i><i style="left:490px;top:853px">32</i><i style="left:500px;top:856px">33</i><i style="left:510px;top:860px">34</i><i style="left:520px;top:864px">35</i>
<i style="left:530px;top:869px">36</i><i style="left:426px;top:864px">25</i><i style="left:437px;top:865px">26</i><i style="left:447px;top:866px">27</i><i style="left:457px;top:867px">28</i><i style="left:468px;top:869px">29</i><i style="left:477px;top:871px">30</i><i style="left:487px;top:874px">31</i>
<i style="left:497px;top:877px">32</i><i style="left:506px;top:880px">33</i><i style="left:516px;top:884px">34</i><i style="left:426px;top:884px">23</i><i style="left:436px;top:885px">24</i><i style="left:446px;top:886px">25</i><i style="left:455px;top:887px">26</i><i style="left:464px;top:889px">27</i>
<i style="left:474px;top:891px">28</i><i style="left:483px;top:894px">29</i><i style="left:492px;top:896px">30</i><i style="left:502px;top:900px">31</i><i style="left:434px;top:904px">21</i><i style="left:444px;top:905px">22</i><i style="left:453px;top:906px">23</i><i style="left:462px;top:908px">24</i>
<i style="left:471px;top:910px">25</i><i style="left:480px;top:913px">26</i><i style="left:489px;top:916px">27</i><i style="left:498px;top:919px">28</i><i style="left:205px;top:747px">1</i><i style="left:169px;top:793px">1</i><i style="left:180px;top:785px">2</i><i style="left:190px;top:778px">3</i>
<i style="left:201px;top:771px">4</i><i style="left:212px;top:764px">5</i><i style="left:142px;top:844px">1</i><i style="left:152px;top:835px">2</i><i style="left:162px;top:826px">3</i><i style="left:172px;top:817px">4</i><i style="left:182px;top:809px">5</i><i style="left:193px;top:801px">6</i>
<i style="left:203px;top:793px">7</i><i style="left:214px;top:786px">8</i><i style="left:226px;top:779px">9</i><i style="left:153px;top:860px">1</i><i style="left:162px;top:852px">2</i><i style="left:171px;top:843px">3</i><i style="left:180px;top:835px">4</i><i style="left:190px;top:827px">5</i>
<i style="left:200px;top:820px">6</i><i style="left:210px;top:812px">7</i><i style="left:220px;top:806px">8</i><i style="left:230px;top:799px">9</i><i style="left:184px;top:858px">1</i><i style="left:193px;top:851px">2</i><i style="left:202px;top:843px">3</i><i style="left:211px;top:836px">4</i>
<i style="left:220px;top:829px">5</i><i style="left:230px;top:823px">6</i><i style="left:240px;top:817px">7</i><i style="left:250px;top:811px">8</i><i style="left:186px;top:882px">9</i><i style="left:194px;top:874px">10</i><i style="left:203px;top:867px">11</i><i style="left:212px;top:859px">12</i>
<i style="left:221px;top:852px">13</i><i style="left:230px;top:845px">14</i><i style="left:240px;top:839px">15</i><i style="left:250px;top:833px">16</i><i style="left:260px;top:827px">17</i><i style="left:202px;top:893px">10</i><i style="left:210px;top:885px">11</i><i style="left:219px;top:878px">12</i>
<i style="left:228px;top:871px">13</i><i style="left:237px;top:864px">14</i><i style="left:246px;top:858px">15</i><i style="left:255px;top:852px">16</i><i style="left:265px;top:846px">17</i><i style="left:218px;top:904px">9</i><i style="left:226px;top:897px">10</i><i style="left:234px;top:890px">11</i>
<i style="left:242px;top:883px">12</i><i style="left:251px;top:877px">13</i><i style="left:261px;top:870px">14</i><i style="left:270px;top:865px">15</i><i style="left:280px;top:859px">16</i><i style="left:234px;top:916px">8</i><i style="left:242px;top:909px">9</i><i style="left:250px;top:902px">10</i>
<i style="left:258px;top:896px">11</i><i style="left:267px;top:890px">12</i><i style="left:276px;top:884px">13</i><i style="left:286px;top:879px">14</i><i style="left:250px;top:928px">8</i><i style="left:257px;top:922px">9</i><i style="left:265px;top:915px">10</i><i style="left:273px;top:909px">11</i>
<i style="left:282px;top:903px">12</i><i style="left:291px;top:898px">13</i><i style="left:300px;top:892px">14</i><i style="left:265px;top:940px">7</i><i style="left:273px;top:934px">8</i><i style="left:281px;top:928px">9</i><i style="left:289px;top:923px">10</i><i style="left:297px;top:918px">11</i>
<i style="left:305px;top:913px">12</i><i style="left:314px;top:908px">13</i><i style="left:281px;top:952px">5</i><i style="left:288px;top:946px">6</i><i style="left:296px;top:941px">7</i><i style="left:303px;top:936px">8</i><i style="left:311px;top:931px">9</i><i style="left:319px;top:927px">10</i>
<i style="left:124px;top:967px">1</i><i style="left:129px;top:957px">2</i><i style="left:135px;top:947px">3</i><i style="left:141px;top:937px">4</i><i style="left:148px;top:928px">5</i><i style="left:155px;top:918px">6</i><i style="left:162px;top:909px">7</i><i style="left:170px;top:900px">8</i>
<i style="left:136px;top:986px">1</i><i style="left:141px;top:975px">2</i><i style="left:147px;top:965px">3</i><i style="left:152px;top:955px">4</i><i style="left:158px;top:946px">5</i><i style="left:165px;top:936px">6</i><i style="left:171px;top:927px">7</i><i style="left:178px;top:918px">8</i>
<i style="left:186px;top:910px">9</i><i style="left:160px;top:983px">1</i><i style="left:165px;top:973px">2</i><i style="left:170px;top:963px">3</i><i style="left:176px;top:954px">4</i><i style="left:182px;top:945px">5</i><i style="left:188px;top:936px">6</i><i style="left:195px;top:928px">7</i>
<i style="left:203px;top:920px">8</i><i style="left:183px;top:982px">1</i><i style="left:188px;top:973px">2</i><i style="left:193px;top:964px">3</i><i style="left:200px;top:956px">4</i><i style="left:206px;top:948px">5</i><i style="left:213px;top:939px">6</i><i style="left:220px;top:931px">7</i>
<i style="left:200px;top:991px">1</i><i style="left:205px;top:983px">2</i><i style="left:210px;top:974px">3</i><i style="left:216px;top:966px">4</i><i style="left:222px;top:958px">5</i><i style="left:228px;top:950px">6</i><i style="left:235px;top:942px">7</i><i style="left:222px;top:992px">1</i>
<i style="left:227px;top:984px">2</i><i style="left:232px;top:976px">3</i><i style="left:238px;top:968px">4</i><i style="left:245px;top:961px">5</i><i style="left:252px;top:954px">6</i><i style="left:249px;top:986px">1</i><i style="left:255px;top:979px">2</i><i style="left:261px;top:972px">3</i>
<i style="left:268px;top:965px">4</i><i style="left:640px;top:753px">28</i><i style="left:633px;top:771px">34</i><i style="left:643px;top:778px">35</i><i style="left:654px;top:786px">36</i><i style="left:665px;top:793px">37</i><i style="left:675px;top:802px">38</i><i style="left:608px;top:779px">36</i>
<i style="left:619px;top:786px">37</i><i style="left:630px;top:793px">38</i><i style="left:641px;top:801px">39</i><i style="left:652px;top:809px">40</i><i style="left:662px;top:817px">41</i><i style="left:672px;top:826px">42</i><i style="left:682px;top:835px">43</i><i style="left:604px;top:799px">38</i>
<i style="left:614px;top:806px">39</i><i style="left:624px;top:812px">40</i><i style="left:634px;top:820px">41</i><i style="left:644px;top:827px">42</i><i style="left:653px;top:835px">43</i><i style="left:663px;top:843px">44</i><i style="left:672px;top:852px">45</i><i style="left:681px;top:860px">46</i>
<i style="left:584px;top:811px">35</i><i style="left:593px;top:817px">36</i><i style="left:603px;top:823px">37</i><i style="left:613px;top:829px">38</i><i style="left:622px;top:836px">39</i><i style="left:632px;top:843px">40</i><i style="left:641px;top:851px">41</i><i style="left:650px;top:858px">42</i>
<i style="left:574px;top:827px">42</i><i style="left:584px;top:833px">43</i><i style="left:594px;top:839px">44</i><i style="left:603px;top:845px">45</i><i style="left:613px;top:852px">46</i><i style="left:622px;top:859px">47</i><i style="left:631px;top:867px">48</i><i style="left:639px;top:874px">49</i>
<i style="left:648px;top:882px">50</i><i style="left:569px;top:846px">42</i><i style="left:578px;top:852px">43</i><i style="left:587px;top:857px">44</i><i style="left:596px;top:864px">45</i><i style="left:605px;top:870px">46</i><i style="left:614px;top:877px">47</i><i style="left:623px;top:885px">48</i>
<i style="left:632px;top:893px">49</i><i style="left:554px;top:859px">39</i><i style="left:563px;top:865px">40</i><i style="left:572px;top:870px">41</i><i style="left:582px;top:876px">42</i><i style="left:590px;top:883px">43</i><i style="left:599px;top:890px">44</i><i style="left:607px;top:897px">45</i>
<i style="left:616px;top:904px">46</i><i style="left:548px;top:879px">37</i><i style="left:557px;top:885px">38</i><i style="left:566px;top:890px">39</i><i style="left:575px;top:896px">40</i><i style="left:583px;top:903px">41</i><i style="left:591px;top:910px">42</i><i style="left:599px;top:916px">43</i>
<i style="left:534px;top:893px">35</i><i style="left:543px;top:898px">36</i><i style="left:552px;top:904px">37</i><i style="left:560px;top:909px">38</i><i style="left:568px;top:915px">39</i><i style="left:576px;top:921px">40</i><i style="left:584px;top:928px">41</i><i style="left:520px;top:908px">32</i>
<i style="left:528px;top:913px">33</i><i style="left:536px;top:918px">34</i><i style="left:544px;top:923px">35</i><i style="left:552px;top:928px">36</i><i style="left:560px;top:934px">37</i><i style="left:568px;top:940px">38</i><i style="left:516px;top:927px">29</i><i style="left:523px;top:932px">30</i>
<i style="left:531px;top:936px">31</i><i style="left:538px;top:942px">32</i><i style="left:545px;top:947px">33</i><i style="left:553px;top:952px">34</i><i style="left:682px;top:891px">43</i><i style="left:689px;top:900px">44</i><i style="left:664px;top:900px">51</i><i style="left:671px;top:909px">52</i>
<i style="left:678px;top:918px">53</i><i style="left:685px;top:927px">54</i><i style="left:691px;top:937px">55</i><i style="left:698px;top:946px">56</i><i style="left:703px;top:956px">57</i><i style="left:709px;top:967px">58</i><i style="left:648px;top:910px">50</i><i style="left:655px;top:919px">51</i>
<i style="left:662px;top:928px">52</i><i style="left:669px;top:937px">53</i><i style="left:675px;top:947px">54</i><i style="left:681px;top:956px">55</i><i style="left:687px;top:966px">56</i><i style="left:692px;top:976px">57</i><i style="left:631px;top:920px">47</i><i style="left:638px;top:928px">48</i>
<i style="left:645px;top:937px">49</i><i style="left:652px;top:945px">50</i><i style="left:658px;top:954px">51</i><i style="left:664px;top:963px">52</i><i style="left:669px;top:973px">53</i><i style="left:614px;top:931px">44</i><i style="left:621px;top:940px">45</i><i style="left:627px;top:948px">46</i>
<i style="left:634px;top:956px">47</i><i style="left:640px;top:965px">48</i><i style="left:646px;top:973px">49</i><i style="left:651px;top:982px">50</i><i style="left:599px;top:942px">42</i><i style="left:606px;top:950px">43</i><i style="left:612px;top:958px">44</i><i style="left:618px;top:966px">45</i>
<i style="left:624px;top:974px">46</i><i style="left:629px;top:982px">47</i><i style="left:582px;top:954px">39</i><i style="left:588px;top:960px">40</i><i style="left:594px;top:968px">41</i><i style="left:600px;top:975px">42</i><i style="left:606px;top:984px">43</i><i style="left:612px;top:992px">44</i>
<i style="left:566px;top:965px">35</i><i style="left:573px;top:972px">36</i><i style="left:579px;top:979px">37</i><i style="left:585px;top:986px">38</i>
</div>
<svg width="860" height="1020" viewBox="0 0 860 1020">
<text x="384.3" y="113.8" font-size="23.2" textLength="92.0" lengthAdjust="spacingAndGlyphs">Balcony</text>
<text x="363.3" y="422.9" font-size="23.2" textLength="163.7" lengthAdjust="spacingAndGlyphs">Amphitheater</text>
<text x="10.1" y="580.6" font-size="23.2" textLength="164.0" lengthAdjust="spacingAndGlyphs">Right Balcony</text>
<text x="705.1" y="571.9" font-size="23.2" textLength="145.8" lengthAdjust="spacingAndGlyphs">Left Balcony</text>
<text x="382.0" y="940.2" font-size="23.0" textLength="89.3" lengthAdjust="spacingAndGlyphs">STALLS</text>
<text x="378.7" y="1013.6" font-size="31.3" textLength="105.5" lengthAdjust="spacingAndGlyphs">STAGE</text>
</svg>
</body></html>
